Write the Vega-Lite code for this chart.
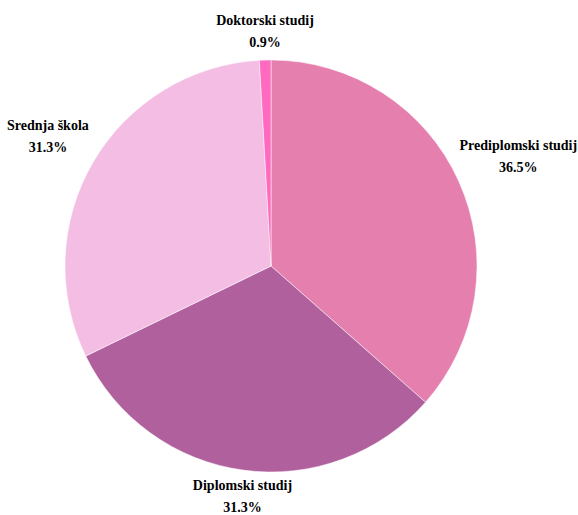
{
  "$schema": "https://vega.github.io/schema/vega-lite/v6.json",
  "width": 542,
  "height": 532,
  "autosize": "none",
  "padding": {"left": 0, "top": 0, "right": 36, "bottom": 0},
  "background": "white",
  "view": {"stroke": null},
  "data": {
    "values": [
      {"category": "Prediplomski studij", "share": 36.5, "rank": 1},
      {"category": "Diplomski studij", "share": 31.3, "rank": 2},
      {"category": "Srednja škola", "share": 31.3, "rank": 3},
      {"category": "Doktorski studij", "share": 0.9, "rank": 4}
    ]
  },
  "transform": [
    {"calculate": "datum.category + '\\n' + datum.share + '%'", "as": "label"}
  ],
  "encoding": {
    "theta": {"field": "share", "type": "quantitative", "stack": true},
    "order": {"field": "rank", "type": "quantitative", "sort": "ascending"}
  },
  "layer": [
    {
      "mark": {"type": "arc", "outerRadius": 206, "stroke": "white", "strokeWidth": 0.5},
      "encoding": {
        "color": {
          "field": "category",
          "type": "nominal",
          "scale": {
            "domain": ["Prediplomski studij", "Diplomski studij", "Srednja škola", "Doktorski studij"],
            "range": ["#E57FAD", "#B0619D", "#F3BDE4", "#FF69C0"]
          },
          "legend": null
        }
      }
    },
    {
      "mark": {
        "type": "text",
        "radius": 212,
        "font": "Liberation Serif",
        "fontWeight": "bold",
        "fontSize": 14,
        "lineHeight": 22,
        "lineBreak": "\n",
        "color": "black",
        "align": "center",
        "dx": {"expr": "sin(PI*(datum.share_start+datum.share_end)/100) > 0.3 ? length(datum.category)*2.85 : (sin(PI*(datum.share_start+datum.share_end)/100) < -0.3 ? -length(datum.category)*3.1 : 0)"},
        "dy": {"expr": "cos(PI*(datum.share_start+datum.share_end)/100) > 0 ? -26 : 3"},
        "baseline": {"expr": "cos(PI*(datum.share_start+datum.share_end)/100) > 0 ? 'bottom' : 'top'"}
      },
      "encoding": {
        "text": {"field": "label", "type": "nominal"}
      }
    }
  ]
}
